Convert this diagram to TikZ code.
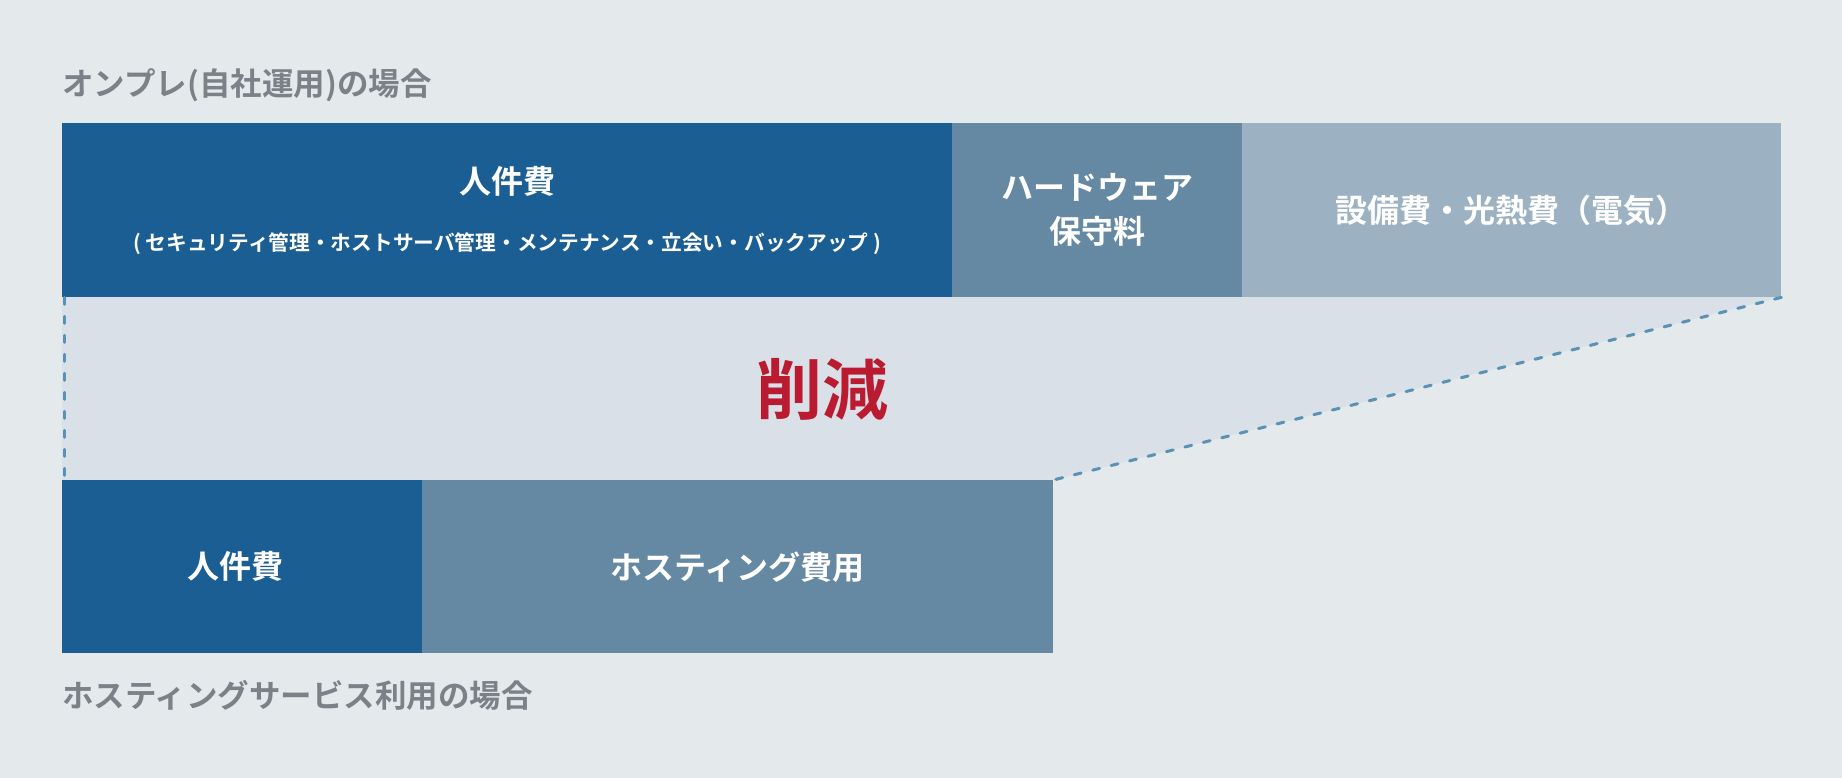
\documentclass[tikz,border=0pt]{standalone}
\usepackage{fontspec}
\setmainfont{Noto Sans CJK JP}[BoldFont={Noto Sans CJK JP Bold}]
\usepackage{xcolor}
\usetikzlibrary{positioning, calc}

\definecolor{bgcol}{HTML}{E4E9EC}
\definecolor{bandcol}{HTML}{D9E0E7}
\definecolor{darkblue}{HTML}{1B5E94}
\definecolor{midblue}{HTML}{6589A3}
\definecolor{lightblue}{HTML}{9CB2C3}
\definecolor{dashcol}{HTML}{5B92B3}
\definecolor{cutred}{HTML}{BA1B30}
\definecolor{titlegray}{HTML}{7A8288}

\begin{document}
\begin{tikzpicture}[
          x=1pt, y=-1pt,
          cell/.style={fill=#1, anchor=north west, inner sep=0pt, minimum height=174pt, text=white, align=center, font=\bfseries\fontsize{32}{44}\selectfont},
          caption/.style={anchor=west, inner sep=0pt, text=titlegray, font=\bfseries\fontsize{31.5}{36}\selectfont},
          cutline/.style={draw=dashcol, line width=3pt, line cap=round, dash pattern=on 7pt off 12pt}
        ]
        \useasboundingbox[fill=bgcol] (0,0) rectangle (1842,778);
        % saving band between the two rows
        \fill[bandcol] (62,297) -- (1781,297) -- (1053,480) -- (62,480) -- cycle;
        \node[caption] (onprem) at (62,85) {オンプレ(自社運用)の場合};
        \node[cell=darkblue, minimum width=890pt] (staff) at (62,123) {人件費\\[13pt]{\fontsize{20.7}{26}\selectfont ( セキュリティ管理・ホストサーバ管理・メンテナンス・立会い・バックアップ )}};
        \node[cell=midblue, minimum width=290pt] (hw) at (952,123) {ハードウェア\\保守料};
        \node[cell=lightblue, minimum width=539pt] (facility) at (1242,123) {設備費・光熱費（電気）};
        \node[text=cutred, font=\bfseries\fontsize{66}{70}\selectfont] (cut) at (822,389) {削減};
        \node[cell=darkblue, minimum width=360pt, minimum height=173pt] (hstaff) at (62,480) {人件費\hspace*{14pt}};
        \node[cell=midblue, minimum width=631pt, minimum height=173pt] (hosting) at (422,480) {ホスティング費用};
        \node[caption] (hosted) at (62,695) {ホスティングサービス利用の場合};
        \draw[cutline] ([xshift=2.5pt]staff.south west) -- ([xshift=2.5pt]hstaff.north west);
        \draw[cutline] (facility.south east) -- (hosting.north east);
        \end{tikzpicture}
\end{document}
